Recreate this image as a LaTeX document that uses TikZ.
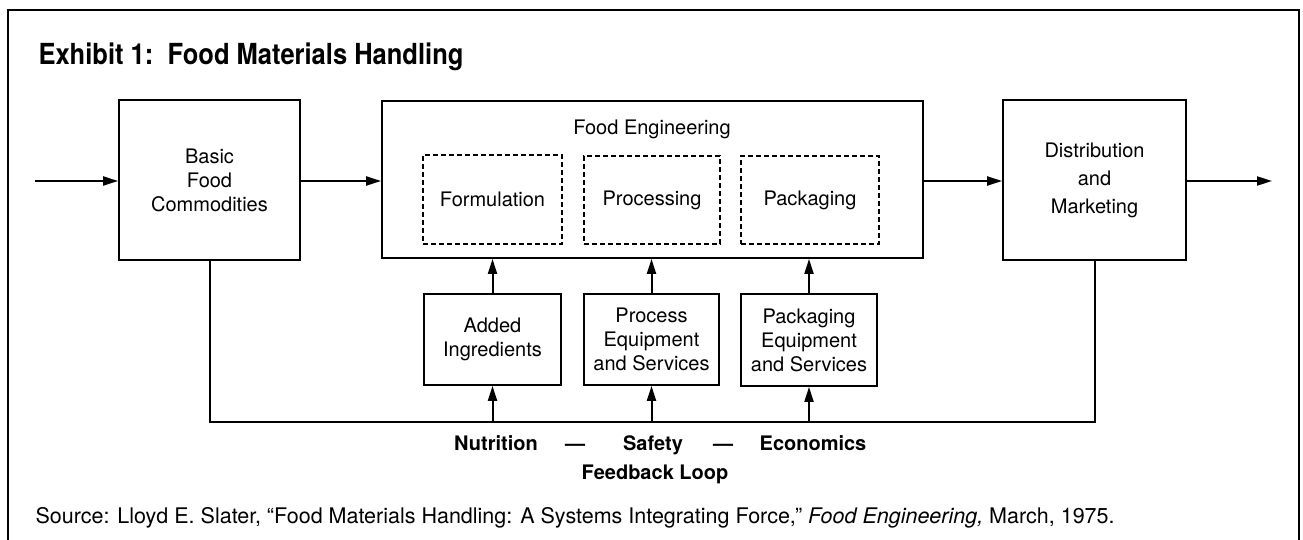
\documentclass[tikz,border=0pt]{standalone}
\usepackage{fontspec}
\setmainfont{TeX Gyre Heros}
\usetikzlibrary{arrows.meta,positioning,calc}

\begin{document}
\begin{tikzpicture}[
    x=1pt, y=-1pt,
    every node/.style={font=\fontsize{20}{24}\selectfont, align=center},
    box/.style={rectangle, draw, line width=1.8pt, inner sep=0pt},
    stage/.style={box, dash pattern=on 5pt off 3pt},
    goal/.style={font=\fontsize{20}{24}\selectfont\bfseries, anchor=base},
    flow/.style={line width=2pt, -{Triangle[length=15pt,width=9pt]}},
    wire/.style={line width=2pt},
]
    \useasboundingbox (0,0) rectangle (1303,540);

    % Frame and title
    \draw[line width=2.8pt] (8,545) -- (8,10) -- (1299,10) -- (1299,545);
    \node[anchor=base west, font=\fontsize{29}{32}\selectfont\bfseries] (title) at (35,65) {\scalebox{0.88}[1]{Exhibit 1:\ \ Food Materials Handling}};

    % Main chain
    \node[box, minimum width=181pt, minimum height=160pt] (basic) at (209.5,180) {Basic\\Food\\Commodities};
    \node[box, minimum width=541pt, minimum height=157pt] (foodeng) at (652.5,179.5) {};
    \node[anchor=base] (foodengtitle) at (652,135) {Food Engineering};
    \node[box, minimum width=183pt, minimum height=160pt] (distrib) at (1094.5,180) {Distribution\\[4pt]and\\[4pt]Marketing};

    % Stages inside food engineering
    \node[stage, minimum width=139pt, minimum height=89pt] (formul) at (492.5,199.5) {Formulation};
    \node[stage, minimum width=136pt, minimum height=88pt] (process) at (652,200) {Processing};
    \node[stage, minimum width=138pt, minimum height=88pt] (packing) at (810,200) {Packaging};

    % Supporting inputs
    \node[box, minimum width=137pt, minimum height=91pt] (added) at (492.5,339.5) {Added\\Ingredients};
    \node[box, minimum width=135pt, minimum height=91pt] (proceq) at (651.5,339.5) {Process\\Equipment\\and Services};
    \node[box, minimum width=136pt, minimum height=92pt] (packeq) at (809,340) {Packaging\\Equipment\\and Services};

    % Feedback loop labels
    \node[goal] (nutrition) at (496,450) {Nutrition};
    \node[goal] (dasha) at (575,450) {---};
    \node[goal] (safety) at (653,450) {Safety};
    \node[goal] (dashb) at (723,450) {---};
    \node[goal] (economics) at (813,450) {Economics};
    \node[goal] (fbloop) at (655,479) {Feedback Loop};

    % Source
    \node[anchor=base west, font=\fontsize{21.5}{24}\selectfont] (source) at (32,523) {Source: Lloyd E. Slater, “Food Materials Handling: A Systems Integrating Force,” \textit{Food Engineering,} March, 1975.};

    % Flow through the chain
    \coordinate (in) at (35,181);
    \coordinate (out) at (1272,181);
    \draw[flow] (in) -- (in -| basic.west);
    \draw[flow] (in -| basic.east) -- (in -| foodeng.west);
    \draw[flow] (in -| foodeng.east) -- (in -| distrib.west);
    \draw[flow] (in -| distrib.east) -- (out);

    % Inputs into food engineering
    \draw[flow] (added.north) -- (added.north |- foodeng.south);
    \draw[flow] (proceq.north) -- (proceq.north |- foodeng.south);
    \draw[flow] (packeq.north) -- (packeq.north |- foodeng.south);

    % Feedback loop
    \coordinate (fbl) at (209.5,422);
    \coordinate (fbr) at (1094.5,422);
    \draw[wire] (basic.south) -- (fbl) -- (fbr) -- (distrib.south);
    \draw[flow] (added.south |- fbl) -- (added.south);
    \draw[flow] (proceq.south |- fbl) -- (proceq.south);
    \draw[flow] (packeq.south |- fbl) -- (packeq.south);
\end{tikzpicture}
\end{document}
